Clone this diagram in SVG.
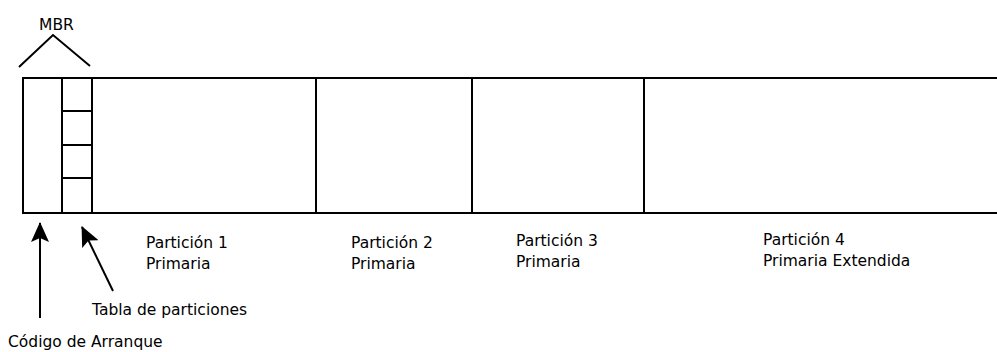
<svg xmlns="http://www.w3.org/2000/svg" width="997" height="352" viewBox="0 0 997 352">
<style>
.ln{stroke:#000;stroke-width:2;fill:none}
.t{font-family:"DejaVu Sans","Liberation Sans",sans-serif;font-size:15.5px;fill:#000}
</style>
<defs>
<marker id="ah" viewBox="0 0 20 18" refX="19" refY="9" markerWidth="20" markerHeight="18" markerUnits="userSpaceOnUse" orient="auto">
<path d="M0,0 L20,9 L0,18 L4,9 Z" fill="#000"/>
</marker>
</defs>
<rect width="997" height="352" fill="#fff"/>
<g id="mbr">
<polyline class="ln" points="19,67 53,35 90,66"/>
<text class="t" x="56.5" y="30" text-anchor="middle">MBR</text>
</g>
<g id="disk">
<path class="ln" d="M997,78 H23 V213 H997"/>
</g>
<g id="codigo">
<line class="ln" x1="62" y1="78" x2="62" y2="213"/>
</g>
<g id="tabla">
<rect class="ln" x="62" y="78" width="30" height="135"/>
<line class="ln" x1="62" y1="111" x2="92" y2="111"/>
<line class="ln" x1="62" y1="145" x2="92" y2="145"/>
<line class="ln" x1="62" y1="178" x2="92" y2="178"/>
</g>
<g id="p1">
<line class="ln" x1="316" y1="78" x2="316" y2="213"/>
<text class="t" x="146" y="248">Partición 1</text>
<text class="t" x="146" y="269">Primaria</text>
</g>
<g id="p2">
<line class="ln" x1="472" y1="78" x2="472" y2="213"/>
<text class="t" x="351" y="248">Partición 2</text>
<text class="t" x="351" y="269">Primaria</text>
</g>
<g id="p3">
<line class="ln" x1="644" y1="78" x2="644" y2="213"/>
<text class="t" x="516" y="246">Partición 3</text>
<text class="t" x="516" y="267">Primaria</text>
</g>
<g id="p4">
<text class="t" x="763" y="245">Partición 4</text>
<text class="t" x="763" y="266">Primaria Extendida</text>
</g>
<g id="labels">
<text class="t" x="92" y="315">Tabla de particiones</text>
<text class="t" x="8" y="347">Código de Arranque</text>
</g>
<g id="connectors">
<line class="ln" x1="40" y1="318" x2="40" y2="223" marker-end="url(#ah)"/>
<line class="ln" x1="113" y1="291" x2="82" y2="227" marker-end="url(#ah)"/>
</g>
</svg>
